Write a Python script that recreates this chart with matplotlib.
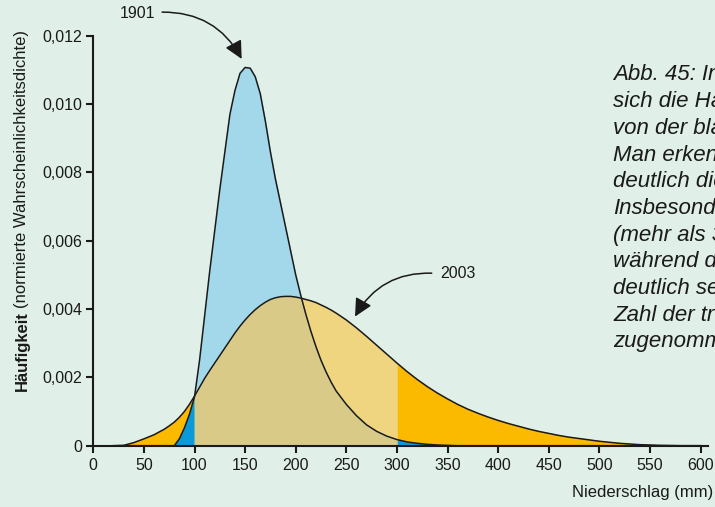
import matplotlib
matplotlib.use("Agg")
import matplotlib.pyplot as plt
import numpy as np

# Niederschlag (mm) - gemeinsames Raster fuer beide Kurven
x_mm = [20, 30, 40, 50, 60, 70,
        75, 80, 85, 90, 95, 100, 105, 110, 115, 120, 125, 130, 135, 140,
        145, 150, 155, 160, 165, 170, 175, 180, 185, 190, 195, 200, 205,
        210, 215, 220, 225, 230, 235, 240,
        250, 260, 270, 280, 290, 300, 310, 320, 330, 340, 350, 360, 370,
        380, 390, 400, 410, 420, 430, 440, 450, 460, 470, 480, 490, 500,
        510, 520, 530, 540, 550, 560, 570, 580, 590, 600]

# normierte Wahrscheinlichkeitsdichte 1901
dichte_1901 = [0, 0, 0, 0, 0, 0,
               0, 0, 0.0002, 0.00052, 0.00092, 0.00143, 0.0025, 0.0038, 0.0051,
               0.0063, 0.0075, 0.0086, 0.0097, 0.0104,
               0.0109, 0.01107, 0.01105, 0.0108, 0.0103, 0.0095, 0.0086, 0.0078,
               0.0071, 0.0064, 0.0057, 0.0050, 0.0044,
               0.00385, 0.00335, 0.0029, 0.0025, 0.00216, 0.00186, 0.0016,
               0.00121, 0.00088, 0.00061, 0.00042, 0.00028, 0.00018, 0.00011, 0.00007,
               0.00004, 0.00002, 0.00001, 0, 0,
               0, 0, 0, 0, 0, 0, 0, 0, 0, 0, 0, 0, 0,
               0, 0, 0, 0, 0, 0, 0, 0, 0, 0]

# normierte Wahrscheinlichkeitsdichte 2003
dichte_2003 = [0, 0.00001, 0.00009, 0.0002, 0.00032, 0.00048,
               0.00058, 0.00069, 0.00083, 0.001, 0.00121, 0.00145, 0.00171, 0.00197,
               0.0022, 0.00242, 0.00264, 0.00286, 0.00308, 0.0033,
               0.0035, 0.00368, 0.00384, 0.00398, 0.0041, 0.0042, 0.00428, 0.00433,
               0.00436, 0.00437, 0.00437, 0.00435, 0.00432,
               0.00428, 0.00424, 0.00419, 0.00412, 0.00405, 0.00397, 0.00388,
               0.00368, 0.00345, 0.0032, 0.00294, 0.00268, 0.00242, 0.00217, 0.00194,
               0.00173, 0.00154, 0.00137, 0.00121, 0.00107,
               0.00095, 0.00084, 0.00074, 0.00065, 0.00057, 0.00049, 0.00042, 0.00036,
               0.0003, 0.00025, 0.00021, 0.00017, 0.00013,
               0.0001, 0.00007, 0.00005, 0.00003, 0.00002, 0.00001, 0.000005, 0, 0, 0]

x_ticks = [0, 50, 100, 150, 200, 250, 300, 350, 400, 450, 500, 550, 600]
y_ticks = [0, 0.002, 0.004, 0.006, 0.008, 0.010, 0.012]
y_labels = ["0", "0,002", "0,004", "0,006", "0,008", "0,010", "0,012"]

caption = ["Abb. 45: In dieser Grafik",
           "sich die Häufigkeitsverteilung",
           "von der blauen Kurve",
           "Man erkennt",
           "deutlich die",
           "Insbesondere",
           "(mehr als 300 mm)",
           "während die",
           "deutlich seltener",
           "Zahl der trockenen",
           "zugenommen"]

bg = "#e0efe7"
ink = "#1a1a1a"
plt.rcParams["font.family"] = ["Liberation Sans", "DejaVu Sans"]

x = np.array(x_mm)
a = np.array(dichte_1901)
b = np.array(dichte_2003)
lo = np.minimum(a, b)

fig = plt.figure(figsize=(7.15, 5.07), dpi=100, facecolor=bg)
ax = fig.add_axes([93.3 / 715, 1 - 445.7 / 507, 614.3 / 715, 410 / 507])
ax.set_facecolor(bg)

# Flaechen: Raender (<100 und >300 mm) kraeftig, Mitte hell
rand = (x <= 100) | (x >= 300)
mitte = (x >= 100) & (x <= 300)
kw = dict(linewidth=0.4, zorder=1)
ax.fill_between(x, 0, lo, where=rand, color="#0b9ad9", **kw)
ax.fill_between(x, lo, b, where=rand, color="#fbb900", **kw)
ax.fill_between(x, 0, lo, where=mitte, color="#d9ca88", **kw)
ax.fill_between(x, lo, a, where=mitte, color="#a2d8e9", **kw)
ax.fill_between(x, lo, b, where=mitte, color="#f0d581", **kw)

ax.plot(x, a, color=ink, lw=1.1, zorder=3)
ax.plot(x, b, color=ink, lw=1.1, zorder=3)

ax.set_xlim(0, 607)
ax.set_ylim(0, 0.012)
ax.set_xticks(x_ticks)
ax.set_xticklabels([str(v) for v in x_ticks])
ax.set_yticks(y_ticks)
ax.set_yticklabels(y_labels)
ax.tick_params(length=5, width=1.5, labelsize=11.5, colors=ink, direction="out")
ax.tick_params(axis="x", pad=4)
ax.tick_params(axis="y", pad=3)
for s in ["top", "right"]:
    ax.spines[s].set_visible(False)
for s in ["left", "bottom"]:
    ax.spines[s].set_linewidth(1.5)
    ax.spines[s].set_color(ink)
    ax.spines[s].set_zorder(4)

# Pfeile und Jahreszahlen
ax.text(44, 0.01265, "1901", fontsize=11.5, ha="center", va="center", color=ink)
ax.annotate("", xy=(146.6, 0.01132), xytext=(68, 0.01269), annotation_clip=False,
            arrowprops=dict(arrowstyle="-|>,head_length=0.6,head_width=0.3",
                            connectionstyle="arc3,rad=-0.3", lw=1.1,
                            color=ink, mutation_scale=18, shrinkA=0, shrinkB=0))
ax.text(360.5, 0.00504, "2003", fontsize=11.5, ha="center", va="center", color=ink)
ax.annotate("", xy=(258.6, 0.00378), xytext=(334.4, 0.00505), annotation_clip=False,
            arrowprops=dict(arrowstyle="-|>,head_length=0.6,head_width=0.3",
                            connectionstyle="arc3,rad=0.3", lw=1.1,
                            color=ink, mutation_scale=18, shrinkA=0, shrinkB=0))

fig.text(713 / 715, 1 - 492 / 507, "Niederschlag (mm)", fontsize=12,
         ha="right", va="center", color=ink)

t1 = fig.text(22 / 715, 1 - 391 / 507, "Häufigkeit", fontsize=12, weight="bold",
              rotation=90, ha="center", va="bottom", color=ink)
fig.canvas.draw()
bb = t1.get_window_extent()
fig.text(22 / 715, (bb.y1 + 3) / fig.bbox.height, "(normierte Wahrscheinlichkeitsdichte)",
         fontsize=12, rotation=90, ha="center", va="bottom", color=ink)

for i, line in enumerate(caption):
    fig.text(613 / 715, 1 - (75 + i * 26.7) / 507, line, fontsize=16, style="italic",
             ha="left", va="center", color=ink)

fig.savefig("out.png", dpi=100, facecolor=bg)
